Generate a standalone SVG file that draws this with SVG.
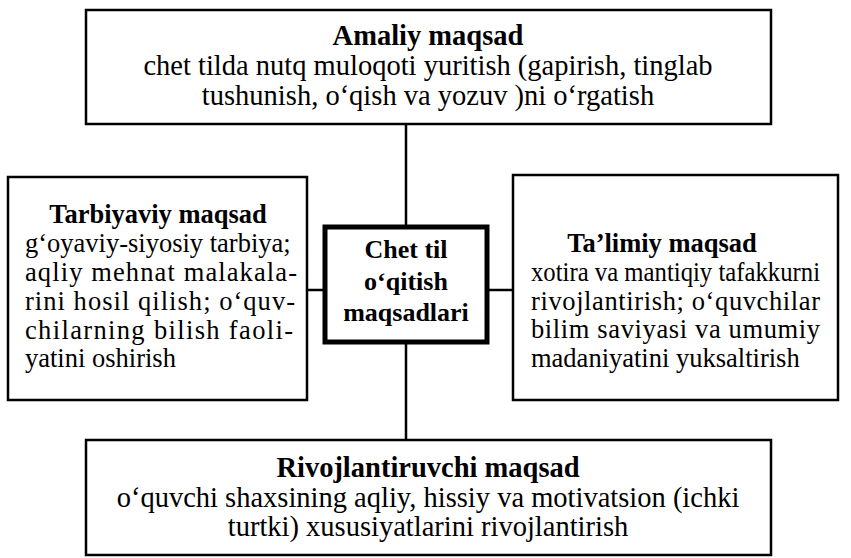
<svg xmlns="http://www.w3.org/2000/svg" width="851" height="558" viewBox="0 0 851 558">
<style>
.box{fill:#fff;stroke:#000;stroke-width:2.5}
.cbox{fill:#fff;stroke:#000;stroke-width:5}
.con{stroke:#000;stroke-width:2.5;fill:none}
.t{font-weight:bold}
.c{text-anchor:middle}
.big{font-size:28.5px}
.mid{font-size:26.5px}
</style>
<rect width="851" height="558" fill="#fff"/>
<g id="connectors">
<line class="con" x1="406" y1="124" x2="406" y2="227"/>
<line class="con" x1="406" y1="342" x2="406" y2="440"/>
<line class="con" x1="307" y1="290" x2="325" y2="290"/>
<line class="con" x1="487" y1="290" x2="513" y2="290"/>
</g>
<g font-family="'Liberation Serif', 'Times New Roman', serif" fill="#000">
<g id="amaliy" class="big">
<rect class="box" x="86" y="10" width="685" height="114"/>
<text class="t c" x="428" y="45">Amaliy  maqsad</text>
<text class="c" x="428" y="75">chet tilda nutq muloqoti yuritish (gapirish, tinglab</text>
<text class="c" x="428" y="105">tushunish, o‘qish va yozuv )ni o‘rgatish</text>
</g>
<g id="tarbiyaviy" class="mid">
<rect class="box" x="8" y="177" width="299" height="223"/>
<text class="t c" x="158" y="223">Tarbiyaviy  maqsad</text>
<text x="25" y="252">g‘oyaviy-siyosiy tarbiya;</text>
<text x="25" y="281" textLength="272" lengthAdjust="spacing">aqliy mehnat malakala-</text>
<text x="25" y="310" textLength="270" lengthAdjust="spacing">rini hosil qilish; o‘quv-</text>
<text x="25" y="339" textLength="268" lengthAdjust="spacing">chilarning bilish faoli-</text>
<text x="25" y="367">yatini oshirish</text>
</g>
<g id="markaz" font-size="26">
<rect class="cbox" x="325" y="227" width="162" height="115"/>
<text class="t c" x="406" y="258">Chet til</text>
<text class="t c" x="406" y="290">o‘qitish</text>
<text class="t c" x="406" y="321">maqsadlari</text>
</g>
<g id="talimiy" class="mid">
<rect class="box" x="513" y="175" width="325" height="225"/>
<text class="t c" x="662" y="252">Ta’limiy  maqsad</text>
<text x="531" y="281" textLength="289" lengthAdjust="spacingAndGlyphs">xotira va mantiqiy tafakkurni</text>
<text x="531" y="310" textLength="289" lengthAdjust="spacing">rivojlantirish;  o‘quvchilar</text>
<text x="531" y="338" textLength="289" lengthAdjust="spacing">bilim  saviyasi  va  umumiy</text>
<text x="531" y="367">madaniyatini yuksaltirish</text>
</g>
<g id="rivojlantiruvchi" class="big">
<rect class="box" x="86" y="440" width="685" height="115"/>
<text class="t c" x="428" y="477">Rivojlantiruvchi  maqsad</text>
<text class="c" x="428" y="507">o‘quvchi shaxsining aqliy, hissiy va motivatsion (ichki</text>
<text class="c" x="428" y="536">turtki) xususiyatlarini rivojlantirish</text>
</g>
</g>
</svg>
